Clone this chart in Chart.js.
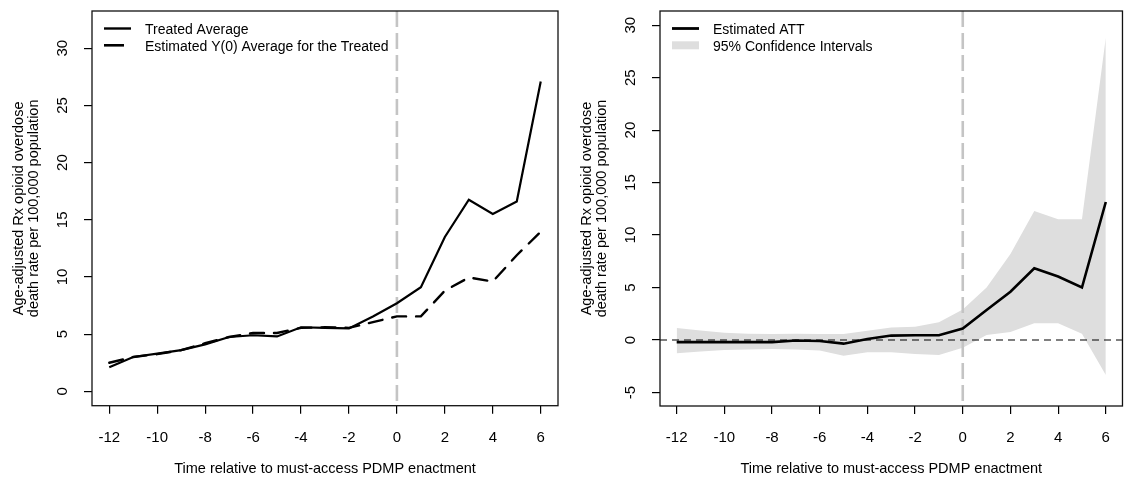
<!DOCTYPE html>
<html>
<head>
<meta charset="utf-8">
<script src="https://cdn.jsdelivr.net/npm/chart.js@4.4.1/dist/chart.umd.min.js"></script>
<style>
  html, body { margin: 0; padding: 0; background: #fff; overflow: hidden; }
  canvas { position: absolute; top: 0; }
</style>
</head>
<body>
<canvas id="leftPanel" width="562" height="478" style="left:0"></canvas>
<canvas id="rightPanel" width="563" height="478" style="left:562px"></canvas>
<script>
// Event time relative to enactment (years)
const periods = [-12, -11, -10, -9, -8, -7, -6, -5, -4, -3, -2, -1, 0, 1, 2, 3, 4, 5, 6];
const xTickValues = [-12, -10, -8, -6, -4, -2, 0, 2, 4, 6];

// Left panel: treated average vs. estimated counterfactual Y(0)
const treatedAvg = [2.1, 3.0, 3.3, 3.6, 4.1, 4.75, 4.9, 4.8, 5.6, 5.55, 5.5, 6.55, 7.7, 9.1, 13.5, 16.75, 15.5, 16.6, 27.1];
const y0Avg      = [2.5, 3.0, 3.25, 3.6, 4.2, 4.75, 5.1, 5.1, 5.55, 5.6, 5.55, 6.05, 6.55, 6.55, 8.8, 9.95, 9.6, 11.9, 13.95];
const leftYTickValues = [0, 5, 10, 15, 20, 25, 30];

// Right panel: estimated ATT with 95% confidence band
const att     = [-0.2, -0.2, -0.2, -0.2, -0.2, -0.05, -0.1, -0.35, 0.1, 0.42, 0.45, 0.45, 1.1, 2.85, 4.6, 6.83, 6.05, 5.0, 13.15];
const ciUpper = [1.14, 0.9, 0.7, 0.6, 0.57, 0.6, 0.57, 0.57, 0.89, 1.2, 1.27, 1.68, 2.9, 5.0, 8.2, 12.3, 11.5, 11.5, 28.8];
const ciLower = [-1.27, -1.1, -0.95, -0.9, -0.86, -0.9, -1.0, -1.5, -1.18, -1.18, -1.34, -1.43, -0.75, 0.48, 0.75, 1.59, 1.59, 0.6, -3.33];
const rightYTickValues = [-5, 0, 5, 10, 15, 20, 25, 30];

const yTitleLines = ['Age-adjusted Rx opioid overdose', 'death rate per 100,000 population'];
const xTitleText = 'Time relative to must-access PDMP enactment';

const FONT = '"Liberation Sans", Arial, sans-serif';
Chart.defaults.font.family = FONT;
Chart.defaults.color = '#000';

const toPoints = (ys) => periods.map((t, i) => ({ x: t, y: ys[i] }));

// Box, rotated y labels, reference lines and legend drawn around the plot region
const panelDecor = {
  id: 'panelDecor',
  beforeDatasetDraw(chart, args, opts) {
    if (args.index !== opts.refBeforeIndex) return;
    const { ctx, chartArea: a, scales: { x, y } } = chart;
    ctx.save();
    ctx.beginPath();
    ctx.rect(a.left, a.top, a.right - a.left, a.bottom - a.top);
    ctx.clip();
    // vertical reference at time 0
    const x0 = x.getPixelForValue(0);
    ctx.strokeStyle = '#c4c4c4';
    ctx.lineWidth = 2.6;
    ctx.setLineDash([16, 6]);
    ctx.beginPath();
    ctx.moveTo(x0, a.top);
    ctx.lineTo(x0, a.bottom);
    ctx.stroke();
    if (opts.zeroLine) {
      const yz = y.getPixelForValue(0);
      ctx.strokeStyle = '#000';
      ctx.lineWidth = 1.2;
      ctx.setLineDash([7, 5]);
      ctx.beginPath();
      ctx.moveTo(a.left, yz);
      ctx.lineTo(a.right, yz);
      ctx.stroke();
    }
    ctx.restore();
  },
  afterDraw(chart, args, opts) {
    const { ctx, chartArea: a, scales: { y } } = chart;
    ctx.save();
    // frame
    ctx.strokeStyle = '#111';
    ctx.lineWidth = 1.3;
    ctx.setLineDash([]);
    ctx.strokeRect(a.left, a.top, a.right - a.left, a.bottom - a.top);

    // y tick labels, written along the axis
    ctx.fillStyle = '#000';
    ctx.font = '15px ' + FONT;
    ctx.textAlign = 'center';
    ctx.textBaseline = 'middle';
    y.ticks.forEach(t => {
      const py = y.getPixelForValue(t.value);
      ctx.save();
      ctx.translate(a.left - 29, py);
      ctx.rotate(-Math.PI / 2);
      ctx.fillText(String(t.value), 0, 0);
      ctx.restore();
    });

    // y axis title (two lines)
    ctx.font = '14.5px ' + FONT;
    const cy = (a.top + a.bottom) / 2;
    yTitleLines.forEach((line, i) => {
      ctx.save();
      ctx.translate(a.left - (i === 0 ? 73.5 : 58.5), cy);
      ctx.rotate(-Math.PI / 2);
      ctx.fillText(line, 0, 0);
      ctx.restore();
    });

    // legend
    ctx.font = '14px ' + FONT;
    ctx.textAlign = 'left';
    const lx = a.left + 12;
    opts.legend.forEach((item, i) => {
      const ly = a.top + 17.5 + i * 16.8;
      if (item.type === 'band') {
        ctx.fillStyle = item.color;
        ctx.fillRect(lx, ly - 4, 27, 8);
      } else {
        ctx.strokeStyle = '#000';
        ctx.lineWidth = item.width;
        ctx.lineCap = item.cap || 'butt';
        ctx.setLineDash(item.dash || []);
        ctx.beginPath();
        ctx.moveTo(lx, ly);
        ctx.lineTo(lx + 27, ly);
        ctx.stroke();
        ctx.setLineDash([]);
      }
      ctx.fillStyle = '#000';
      ctx.fillText(item.label, lx + 41, ly + 1.5);
    });
    ctx.restore();
  }
};

function axisOptions(cfg) {
  const grid = { display: true, drawOnChartArea: false, drawTicks: true, tickLength: 8, color: '#000', lineWidth: 1.2 };
  return {
    x: {
      type: 'linear',
      min: cfg.xMin, max: cfg.xMax,
      afterBuildTicks: s => { s.ticks = xTickValues.map(v => ({ value: v })); },
      afterFit: s => { s.height = cfg.xHeight; },
      ticks: { font: { size: 15, lineHeight: 1.2 }, color: '#000', padding: 15, maxRotation: 0, autoSkip: false, callback: v => String(v) },
      grid, border: { display: false },
      title: { display: true, text: xTitleText, color: '#000', font: { size: 14.5, lineHeight: 1 }, padding: { top: 0, bottom: 2 } }
    },
    y: {
      type: 'linear',
      min: cfg.yMin, max: cfg.yMax,
      afterBuildTicks: s => { s.ticks = cfg.yTicks.map(v => ({ value: v })); },
      afterFit: s => { s.width = cfg.yWidth; },
      ticks: { display: false },
      grid, border: { display: false }
    }
  };
}

const common = {
  responsive: false,
  animation: false,
  events: [],
  plugins: { legend: { display: false }, tooltip: { enabled: false } },
  elements: { point: { radius: 0 }, line: { tension: 0 } }
};

new Chart(document.getElementById('leftPanel'), {
  type: 'line',
  data: {
    datasets: [
      { label: 'Treated Average', data: toPoints(treatedAvg), borderColor: '#000', borderWidth: 2.2, fill: false },
      { label: 'Estimated Y(0) Average for the Treated', data: toPoints(y0Avg), borderColor: '#000', borderWidth: 2.4,
        borderDash: [14, 10], borderCapStyle: 'round', fill: false }
    ]
  },
  options: Object.assign({}, common, {
    layout: { padding: { left: 0, right: 4, top: 11, bottom: 0 } },
    scales: axisOptions({ xMin: -12.72, xMax: 6.72, yMin: -1.26, yMax: 33.26, yTicks: leftYTickValues, yWidth: 92, xHeight: 72.3 }),
    plugins: Object.assign({}, common.plugins, {
      panelDecor: {
        refBeforeIndex: 1,
        zeroLine: false,
        legend: [
          { label: 'Treated Average', width: 2.4 },
          { label: 'Estimated Y(0) Average for the Treated', width: 2.6, dash: [20, 10] }
        ]
      }
    })
  }),
  plugins: [panelDecor]
});

new Chart(document.getElementById('rightPanel'), {
  type: 'line',
  data: {
    datasets: [
      { label: 'Estimated ATT', data: toPoints(att), borderColor: '#000', borderWidth: 2.6, fill: false },
      { label: '95% Confidence Intervals', data: toPoints(ciUpper), borderWidth: 0, borderColor: 'rgba(0,0,0,0)',
        backgroundColor: '#dedede', fill: '+1' },
      { label: 'lower', data: toPoints(ciLower), borderWidth: 0, borderColor: 'rgba(0,0,0,0)', fill: false }
    ]
  },
  options: Object.assign({}, common, {
    layout: { padding: { left: 0, right: 1, top: 11, bottom: 0 } },
    scales: axisOptions({ xMin: -12.7, xMax: 6.7, yMin: -6.29, yMax: 31.35, yTicks: rightYTickValues, yWidth: 98, xHeight: 72 }),
    plugins: Object.assign({}, common.plugins, {
      panelDecor: {
        refBeforeIndex: 0,
        zeroLine: true,
        legend: [
          { label: 'Estimated ATT', width: 2.8 },
          { label: '95% Confidence Intervals', type: 'band', color: '#dedede' }
        ]
      }
    })
  }),
  plugins: [panelDecor]
});
</script>
</body>
</html>
